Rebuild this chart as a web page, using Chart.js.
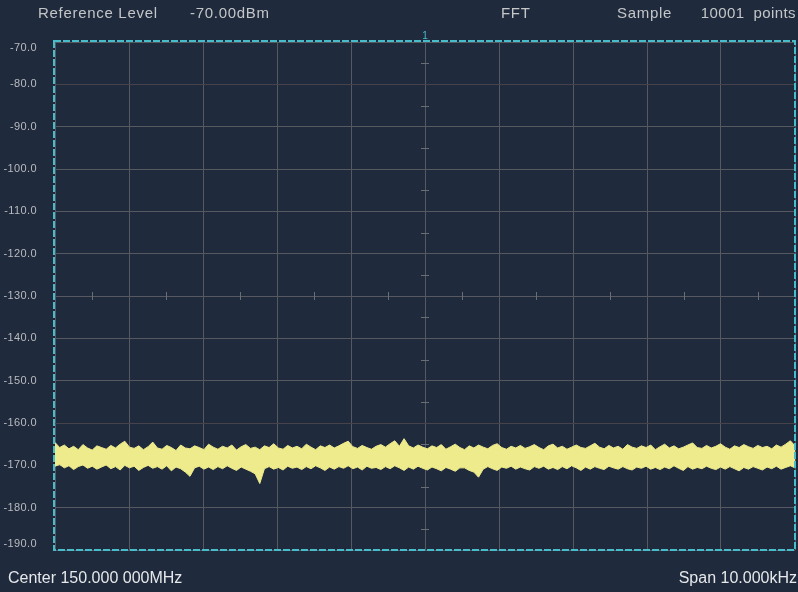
<!DOCTYPE html>
<html>
<head>
<meta charset="utf-8">
<script src="https://cdn.jsdelivr.net/npm/chart.js@4.4.1/dist/chart.umd.min.js"></script>
<style>
  html, body { margin: 0; padding: 0; background: #1f2a3d; }
  #wrap { width: 798px; height: 592px; }
</style>
</head>
<body>
<div id="wrap"><canvas id="spec" width="798" height="592"></canvas></div>
<script>
// axis settings
const refLevel = -70;
const bottomLevel = -190;
const dbPerDiv = 10;
const xDivisions = 10;

// header / footer texts
const headerTexts = ['Reference Level', '-70.00dBm', 'FFT', 'Sample', '10001  points'];
const centerText = 'Center 150.000 000MHz';
const spanText = 'Span 10.000kHz';

// trace envelope (dBm), upper and lower edge of the noise band, left to right
const traceMax = [
  -164.6, -165.8, -165.2, -166.1, -165.5, -166.3, -165.1, -165.9, -166.4, -165.4,
  -165.8, -166.2, -165.3, -165.9, -165.0, -164.3, -165.7, -166.0, -165.4, -166.3,
  -165.6, -164.5, -165.9, -166.2, -165.3, -165.8, -166.5, -165.2, -165.9, -166.1,
  -165.4, -165.8, -166.3, -165.0, -165.7, -166.2, -165.5, -165.9, -165.2, -166.4,
  -165.6, -165.1, -166.0, -165.7, -166.3, -165.4, -165.8, -164.9, -165.9, -166.2,
  -165.3, -165.9, -165.5, -166.1, -165.0, -165.7, -166.3, -165.4, -165.8, -165.2,
  -165.9, -165.4, -164.8, -164.3, -165.6, -166.0, -165.3, -165.8, -166.2, -165.5,
  -165.1, -165.7, -164.9, -164.2, -165.5, -163.7, -165.4, -165.9, -165.2, -165.7,
  -166.1, -165.4, -165.8, -165.1, -166.2, -165.6, -165.0, -165.8, -166.3, -165.4,
  -165.9, -165.2, -165.7, -166.1, -165.3, -164.9, -165.8, -166.2, -165.5, -165.9,
  -165.3, -166.0, -165.6, -165.1, -165.8, -166.3, -165.4, -165.0, -165.9, -165.5,
  -166.2, -165.7, -165.2, -165.8, -166.0, -165.4, -164.8, -165.7, -166.1, -165.3,
  -165.9, -165.5, -166.2, -165.1, -165.7, -166.0, -165.4, -165.8, -165.2, -166.3,
  -165.6, -165.0, -165.9, -165.4, -166.1, -165.7, -165.2, -164.7, -165.8, -166.0,
  -165.3, -165.9, -165.5, -164.9, -165.7, -166.2, -165.4, -165.8, -165.1, -165.6,
  -166.0, -165.3, -165.8, -165.5, -166.1, -165.2, -165.7, -165.0, -164.2, -165.4
];
const traceMin = [
  -170.2, -169.8, -170.6, -170.1, -171.0, -170.3, -169.9, -170.7, -170.2, -170.9,
  -170.4, -169.9, -170.8, -170.3, -171.1, -170.0, -170.6, -170.2, -171.2, -170.5,
  -170.0, -170.7, -170.3, -170.9, -170.1, -171.3, -170.4, -170.8, -171.6, -172.6,
  -170.6, -170.2, -170.9, -170.4, -171.0, -170.3, -170.8, -170.1, -170.7, -171.2,
  -170.4, -170.9, -171.4, -172.0, -174.3, -170.8, -170.3, -170.9, -170.5, -171.1,
  -170.2, -170.7, -170.4, -171.0, -170.3, -170.8, -170.1, -170.6, -171.2, -170.4,
  -170.9, -170.3, -170.7, -170.1, -170.8, -170.4, -171.1, -170.2, -170.7, -170.5,
  -171.0, -170.3, -170.8, -170.1, -170.6, -171.2, -170.4, -170.9, -170.2, -170.7,
  -171.1, -170.4, -170.8, -171.3, -170.5, -170.9, -171.4, -170.6, -170.6, -171.2,
  -171.6, -172.8, -170.9, -170.3, -170.8, -171.2, -170.4, -170.7, -170.2, -170.9,
  -170.4, -170.8, -171.1, -170.3, -170.7, -170.2, -170.9, -170.5, -171.0, -170.3,
  -170.8, -170.1, -170.6, -171.2, -170.4, -170.9, -170.3, -170.7, -171.0, -170.2,
  -170.6, -170.9, -170.3, -170.8, -171.1, -170.4, -170.7, -170.2, -170.9, -170.5,
  -171.0, -170.4, -170.8, -170.1, -170.7, -171.2, -170.3, -170.9, -170.5, -170.8,
  -170.2, -170.7, -171.0, -170.4, -170.9, -170.3, -170.8, -171.3, -170.5, -170.9,
  -170.3, -170.7, -171.1, -170.4, -170.8, -170.2, -170.9, -170.5, -170.1, -170.6
];

const bgColor = '#1f2a3d';
const traceColor = '#eeeb8c';
const gridColor = '#565a60';
const frameColor = '#47bccb';
const textColor = '#c4c6c8';

const lastIndex = traceMax.length - 1;

const screenPlugin = {
    id: 'screen',
    beforeDraw(chart) {
        const ctx = chart.ctx;
        ctx.save();
        ctx.fillStyle = bgColor;
        ctx.fillRect(0, 0, chart.width, chart.height);
        ctx.restore();
    },
    beforeDatasetsDraw(chart) {
        // small ticks on the centre cross
        const ctx = chart.ctx;
        const x = chart.scales.x;
        const y = chart.scales.y;
        const cx = x.getPixelForValue(lastIndex / 2);
        const cy = y.getPixelForValue((refLevel + bottomLevel) / 2);
        ctx.save();
        ctx.strokeStyle = '#6a6e74';
        ctx.lineWidth = 1;
        ctx.beginPath();
        for (let v = refLevel - dbPerDiv / 2; v > bottomLevel; v -= dbPerDiv) {
            const py = Math.round(y.getPixelForValue(v)) + 0.5;
            ctx.moveTo(cx - 4, py);
            ctx.lineTo(cx + 4, py);
        }
        for (let i = 0; i < xDivisions; i++) {
            const px = Math.round(x.getPixelForValue((i + 0.5) * lastIndex / xDivisions)) + 0.5;
            ctx.moveTo(px, cy - 4);
            ctx.lineTo(px, cy + 4);
        }
        ctx.stroke();
        ctx.restore();
    },
    afterDatasetsDraw(chart) {
        const ctx = chart.ctx;
        const a = chart.chartArea;
        ctx.save();
        ctx.strokeStyle = frameColor;
        ctx.lineWidth = 2;
        ctx.setLineDash([7, 2]);
        ctx.strokeRect(a.left - 1, a.top - 1, a.right - a.left + 1, a.bottom - a.top + 1);
        ctx.restore();
    },
    afterDraw(chart) {
        const ctx = chart.ctx;
        const a = chart.chartArea;
        const y = chart.scales.y;
        const x = chart.scales.x;
        ctx.save();
        ctx.textBaseline = 'middle';

        // y tick labels (first and last pulled inside the frame)
        ctx.font = '11px "Liberation Sans", Arial, sans-serif';
        ctx.letterSpacing = '0.4px';
        ctx.fillStyle = '#b9bbbe';
        ctx.textAlign = 'right';
        for (let v = refLevel; v >= bottomLevel; v -= dbPerDiv) {
            let py = y.getPixelForValue(v);
            if (v === refLevel) py += 6;
            if (v === bottomLevel) py -= 6;
            ctx.fillText(v.toFixed(1), 37, py);
        }

        // marker number on the centre line
        ctx.letterSpacing = '0px';
        ctx.fillStyle = frameColor;
        ctx.font = '10px "Liberation Sans", Arial, sans-serif';
        ctx.textAlign = 'center';
        ctx.fillText('1', x.getPixelForValue(lastIndex / 2), a.top - 6);

        // header
        ctx.font = '15px "Liberation Sans", Arial, sans-serif';
        ctx.letterSpacing = '0.7px';
        ctx.fillStyle = textColor;
        ctx.textAlign = 'left';
        ctx.fillText(headerTexts[0], 38, 14);
        ctx.fillText(headerTexts[1], 190, 14);
        ctx.fillText(headerTexts[2], 501, 14);
        ctx.fillText(headerTexts[3], 617, 14);
        ctx.textAlign = 'right';
        ctx.letterSpacing = '0.4px';
        ctx.fillText(headerTexts[4], 796, 14);

        // footer
        ctx.font = '16px "Liberation Sans", Arial, sans-serif';
        ctx.letterSpacing = '0px';
        ctx.fillStyle = '#e6e8ea';
        ctx.textAlign = 'left';
        ctx.fillText(centerText, 8, 579);
        ctx.textAlign = 'right';
        ctx.fillText(spanText, 797, 579);
        ctx.restore();
    }
};

new Chart(document.getElementById('spec'), {
    type: 'line',
    data: {
        datasets: [
            {
                label: 'max',
                data: traceMax.map((v, i) => ({ x: i, y: v })),
                borderColor: traceColor,
                backgroundColor: traceColor,
                borderWidth: 1,
                pointRadius: 0,
                tension: 0,
                fill: false
            },
            {
                label: 'min',
                data: traceMin.map((v, i) => ({ x: i, y: v })),
                borderColor: traceColor,
                backgroundColor: traceColor,
                borderWidth: 1,
                pointRadius: 0,
                tension: 0,
                fill: '-1'
            }
        ]
    },
    options: {
        responsive: false,
        animation: false,
        devicePixelRatio: 1,
        layout: { padding: { left: 55, top: 42, right: 3, bottom: 42 } },
        plugins: { legend: { display: false }, tooltip: { enabled: false } },
        scales: {
            x: {
                type: 'linear',
                min: 0,
                max: lastIndex,
                afterBuildTicks: (s) => {
                    const t = [];
                    for (let i = 0; i <= xDivisions; i++) t.push({ value: i * lastIndex / xDivisions });
                    s.ticks = t;
                },
                afterFit: (s) => { s.height = 0; },
                ticks: { display: false },
                border: { display: false },
                grid: { color: gridColor, drawTicks: false, lineWidth: 1 }
            },
            y: {
                min: bottomLevel,
                max: refLevel,
                ticks: { display: false, stepSize: dbPerDiv },
                afterFit: (s) => { s.width = 0; },
                border: { display: false },
                grid: {
                    drawTicks: false,
                    lineWidth: 1,
                    color: (c) => (c.tick && (c.tick.value === -80 || c.tick.value === -160)) ? '#47434a' : gridColor
                }
            }
        }
    },
    plugins: [screenPlugin]
});
</script>
</body>
</html>
